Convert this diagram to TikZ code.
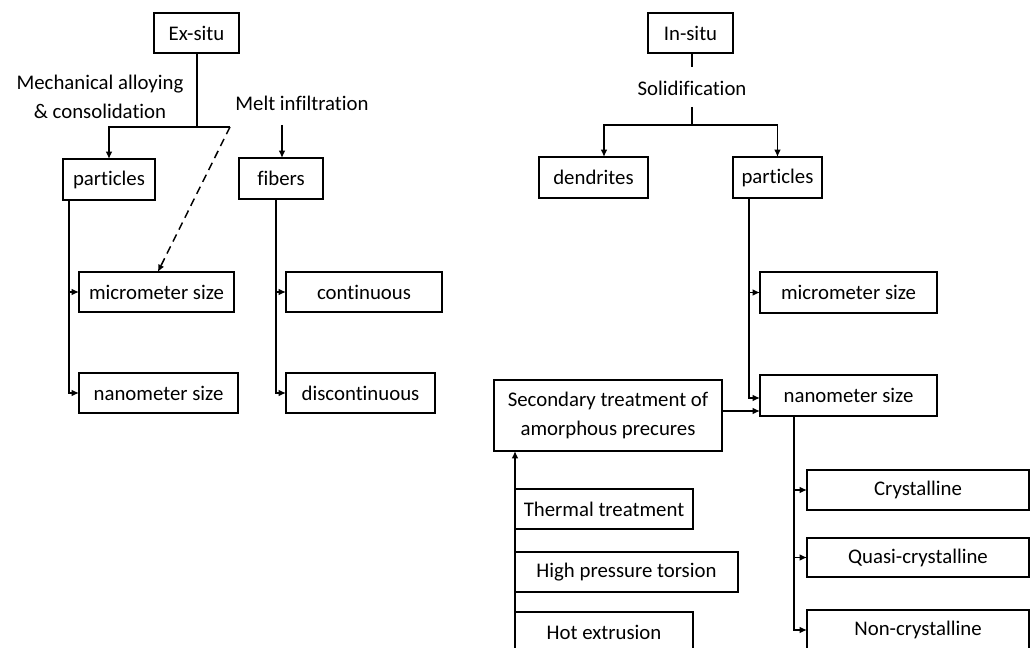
\documentclass[tikz,border=0pt]{standalone}
\usepackage{fontspec}
\setmainfont{Carlito}[RawFeature={-liga;-clig;-dlig}]
\usetikzlibrary{arrows.meta,calc}
\tikzset{
  bx/.style={draw,line width=1.2pt,inner sep=0pt,outer sep=0pt,align=center},
  lbl/.style={inner sep=0pt,align=center},
  ln/.style={line width=1.1pt},
  arr/.style={line width=1.1pt,-{Latex[length=5.5pt,width=5pt]}},
}
\newcommand\bx[6]{\node[bx,minimum width={(#4-#2)*0.75pt},minimum height={(#5-#3)*0.75pt}] (#1) at ({(#2+#4)/2},{(#3+#5)/2}) {#6};}
\begin{document}
\begin{tikzpicture}[x=0.75pt,y=-0.75pt,font=\fontsize{15.6}{21.5}\selectfont]
\clip (0,0) rectangle (1035,648);
\fill[white] (0,0) rectangle (1035,648);
% ---------- Ex-situ ----------
\bx{exsitu}{154}{13}{239}{53}{Ex-situ}
\node[lbl] (mech) at (100,97) {Mechanical alloying\\\& consolidation};
\node[lbl] (melt) at (302,103) {Melt infiltration};
\bx{partL}{63}{159}{155}{200}{particles}
\bx{fibers}{239}{158}{323}{199}{fibers}
\bx{microL}{79}{272}{234}{312}{micrometer size}
\bx{nanoL}{79}{373}{238}{413}{nanometer size}
\bx{cont}{286}{272}{442}{312}{continuous}
\bx{disc}{286}{373}{435}{413}{discontinuous}
\coordinate (j1) at (197,127);
\coordinate (j2) at (230,127);
\draw[ln] (j1 |- exsitu.south) -- (j1);
\draw[arr] (j2) -- (j1) -| (partL.north);
\draw[arr,dashed,dash pattern=on 6pt off 4pt] (j2) -- ([xshift=1pt]microL.north);
\coordinate (m1) at (282,125);
\draw[arr] (m1) -- (m1 |- fibers.north);
\coordinate (pl) at (69,200);
\draw[arr] (pl) |- (nanoL.west);
\draw[arr] (pl |- microL.west) -- (microL.west);
\coordinate (fl) at (276,199);
\draw[arr] (fl) |- (disc.west);
\draw[arr] (fl |- cont.west) -- (cont.west);
% ---------- In-situ ----------
\bx{insitu}{648}{13}{733}{53}{In-situ}
\node[lbl] (solid) at (692,88) {Solidification};
\bx{dend}{539}{157}{648}{198}{dendrites}
\bx{partR}{733}{157}{822}{198}{particles}
\bx{microR}{760}{272}{937}{313}{micrometer size}
\bx{nanoR}{760}{375}{937}{416}{nanometer size}
\bx{sec}{494}{380}{722}{451}{Secondary treatment of\\amorphous precures}
\bx{therm}{515}{489}{693}{529}{Thermal treatment}
\bx{hpt}{515}{552}{738}{592}{High pressure torsion}
\bx{hot}{515}{612}{693}{652}{Hot extrusion}
\bx{cryst}{807}{470}{1029}{510}{Crystalline}
\bx{quasi}{807}{538}{1029}{577}{Quasi-crystalline}
\bx{noncr}{807}{610}{1029}{650}{Non-crystalline}
\coordinate (i1) at (692,67);
\coordinate (i2) at (692,107);
\coordinate (j3) at (692,125);
\coordinate (d1) at (604,125);
\draw[ln] (i1 |- insitu.south) -- (i1);
\draw[ln] (i2) -- (j3);
\draw[arr] (j3) -- (d1) -- (d1 |- dend.north);
\draw[arr] (j3) -| (partR.north);
\coordinate (pr) at (749,198);
\coordinate (pr2) at (749,398);
\draw[arr] (pr) -- (pr2) -- (pr2 -| nanoR.west);
\draw[arr] (pr |- microR.west) -- (microR.west);
\coordinate (s1) at (722,411);
\draw[arr] (s1) -- (s1 -| nanoR.west);
\coordinate (b0) at (515,660);
\draw[arr] (b0) -- (b0 |- sec.south);
\coordinate (nl) at (794,416);
\draw[arr] (nl) |- (noncr.west);
\draw[arr] (nl |- cryst.west) -- (cryst.west);
\draw[arr] (nl |- quasi.west) -- (quasi.west);
\end{tikzpicture}
\end{document}
